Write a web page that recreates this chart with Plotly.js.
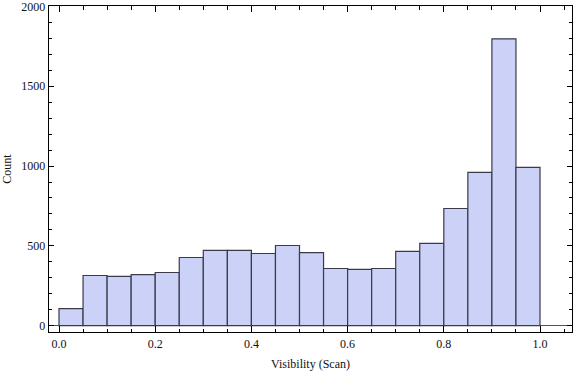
<!DOCTYPE html>
<html>
<head>
<meta charset="utf-8">
<script src="https://cdn.plot.ly/plotly-3.0.1.min.js"></script>
<style>html,body{margin:0;padding:0;background:#fff;}#chart{width:576px;height:372px;}</style>
</head>
<body>
<div id="chart"></div>
<script>
const binStarts = [0.00,0.05,0.10,0.15,0.20,0.25,0.30,0.35,0.40,0.45,0.50,0.55,0.60,0.65,0.70,0.75,0.80,0.85,0.90,0.95];
const counts = [107,314,308,320,333,427,471,471,452,502,458,358,352,358,465,515,734,960,1797,992];
const binWidth = 0.05;
const xTickVals = [0,0.2,0.4,0.6,0.8,1.0];
const xTickText = ["0.0","0.2","0.4","0.6","0.8","1.0"];
const yTickVals = [0,500,1000,1500,2000];
const yTickText = ["0","500","1000","1500","2000"];

const xCenters = binStarts.map(s => s + binWidth/2);
const font = {family: "Times New Roman", size: 12, color: "#111"};

const trace = {
  type: "bar",
  x: xCenters,
  y: counts,
  width: binStarts.map(() => binWidth),
  marker: {color: "rgb(204,210,247)", line: {color: "#3a3a48", width: 1.2}},
  hoverinfo: "skip"
};

const layout = {
  width: 576, height: 372,
  margin: {l: 49, r: 4, t: 6, b: 40},
  paper_bgcolor: "#fff", plot_bgcolor: "#fff",
  showlegend: false,
  font: font,
  bargap: 0,
  xaxis: {
    range: [-0.0208, 1.0665],
    tickvals: xTickVals, ticktext: xTickText,
    ticks: "inside", ticklen: 6, tickwidth: 1, tickcolor: "#000",
    minor: {dtick: 0.05, tick0: 0, ticks: "inside", ticklen: 3.5, tickwidth: 1, tickcolor: "#000", showgrid: false},
    showline: true, linecolor: "#000", linewidth: 1.3, mirror: "allticks",
    showgrid: false, zeroline: false,
    tickfont: font, ticklabeloverflow: "allow",
    title: {text: "Visibility (Scan)", font: font, standoff: 10}
  },
  yaxis: {
    range: [-40, 2003],
    tickvals: yTickVals, ticktext: yTickText,
    ticks: "inside", ticklen: 5, tickwidth: 1, tickcolor: "#000",
    minor: {dtick: 100, tick0: 0, ticks: "inside", ticklen: 3, tickwidth: 1, tickcolor: "#000", showgrid: false},
    showline: true, linecolor: "#000", linewidth: 1.3, mirror: "allticks",
    showgrid: false, zeroline: true, zerolinecolor: "#555", zerolinewidth: 1,
    tickfont: font, ticklabeloverflow: "allow",
    title: {text: "Count", font: font, standoff: 8}
  }
};

Plotly.newPlot("chart", [trace], layout, {staticPlot: true, displayModeBar: false});
</script>
</body>
</html>
